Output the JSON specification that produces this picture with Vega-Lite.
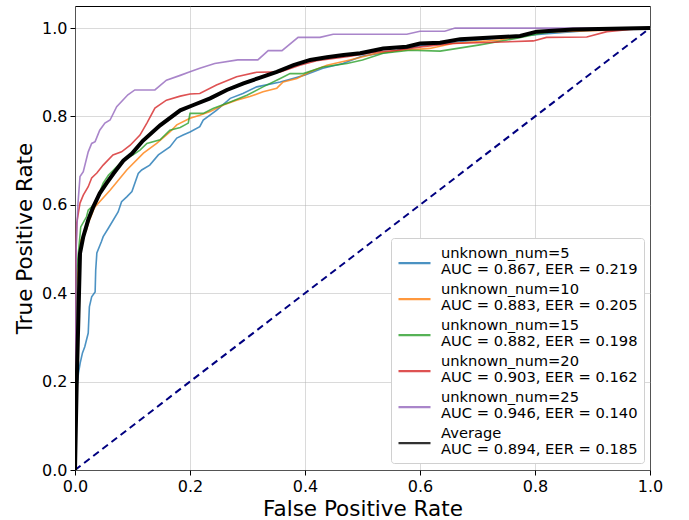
{
  "$schema": "https://vega.github.io/schema/vega-lite/v6.json",
  "autosize": {"type": "none"},
  "padding": {"left": 75, "top": 6, "right": 39, "bottom": 50},
  "width": 575,
  "height": 464,
  "background": "white",
  "config": {
    "font": "DejaVu Sans",
    "view": {"stroke": "black", "strokeWidth": 1},
    "axis": {
      "gridColor": "#b0b0b0",
      "gridOpacity": 0.6,
      "gridWidth": 0.8,
      "domain": false,
      "tickColor": "black",
      "tickSize": 5,
      "labelFont": "DejaVu Sans",
      "labelFontSize": 16,
      "labelColor": "black",
      "titleFont": "DejaVu Sans",
      "titleFontSize": 21.5,
      "titleFontWeight": "normal",
      "titleColor": "black"
    }
  },
  "datasets": {
    "diag": [{"x": 0, "y": 0}, {"x": 1, "y": 1}],
    "avg": [
      {"s": "avg", "x": 0, "y": 0},
      {"s": "avg", "x": 0.003, "y": 0.2},
      {"s": "avg", "x": 0.006, "y": 0.35},
      {"s": "avg", "x": 0.0087, "y": 0.49},
      {"s": "avg", "x": 0.0144, "y": 0.528},
      {"s": "avg", "x": 0.023, "y": 0.566},
      {"s": "avg", "x": 0.032, "y": 0.596},
      {"s": "avg", "x": 0.043, "y": 0.626},
      {"s": "avg", "x": 0.055, "y": 0.649},
      {"s": "avg", "x": 0.067, "y": 0.671},
      {"s": "avg", "x": 0.084, "y": 0.7},
      {"s": "avg", "x": 0.099, "y": 0.716},
      {"s": "avg", "x": 0.118, "y": 0.745},
      {"s": "avg", "x": 0.148, "y": 0.78},
      {"s": "avg", "x": 0.183, "y": 0.814},
      {"s": "avg", "x": 0.206, "y": 0.826},
      {"s": "avg", "x": 0.235, "y": 0.841},
      {"s": "avg", "x": 0.264, "y": 0.86},
      {"s": "avg", "x": 0.293, "y": 0.875},
      {"s": "avg", "x": 0.322, "y": 0.888},
      {"s": "avg", "x": 0.351, "y": 0.901},
      {"s": "avg", "x": 0.38, "y": 0.916},
      {"s": "avg", "x": 0.409, "y": 0.928},
      {"s": "avg", "x": 0.438, "y": 0.934},
      {"s": "avg", "x": 0.467, "y": 0.939},
      {"s": "avg", "x": 0.496, "y": 0.943},
      {"s": "avg", "x": 0.536, "y": 0.954},
      {"s": "avg", "x": 0.577, "y": 0.958},
      {"s": "avg", "x": 0.6, "y": 0.965},
      {"s": "avg", "x": 0.635, "y": 0.967},
      {"s": "avg", "x": 0.67, "y": 0.975},
      {"s": "avg", "x": 0.774, "y": 0.982},
      {"s": "avg", "x": 0.803, "y": 0.992},
      {"s": "avg", "x": 0.866, "y": 0.997},
      {"s": "avg", "x": 1, "y": 1}
    ],
    "runs": [
      {"s": "n5", "x": 0, "y": 0},
      {"s": "n5", "x": 0.002, "y": 0.17},
      {"s": "n5", "x": 0.006, "y": 0.219},
      {"s": "n5", "x": 0.009, "y": 0.242},
      {"s": "n5", "x": 0.013, "y": 0.265},
      {"s": "n5", "x": 0.017, "y": 0.279},
      {"s": "n5", "x": 0.023, "y": 0.31},
      {"s": "n5", "x": 0.025, "y": 0.369},
      {"s": "n5", "x": 0.029, "y": 0.392},
      {"s": "n5", "x": 0.035, "y": 0.403},
      {"s": "n5", "x": 0.036, "y": 0.452},
      {"s": "n5", "x": 0.038, "y": 0.491},
      {"s": "n5", "x": 0.046, "y": 0.517},
      {"s": "n5", "x": 0.049, "y": 0.528},
      {"s": "n5", "x": 0.058, "y": 0.547},
      {"s": "n5", "x": 0.075, "y": 0.584},
      {"s": "n5", "x": 0.081, "y": 0.607},
      {"s": "n5", "x": 0.09, "y": 0.618},
      {"s": "n5", "x": 0.099, "y": 0.63},
      {"s": "n5", "x": 0.11, "y": 0.671},
      {"s": "n5", "x": 0.116, "y": 0.679},
      {"s": "n5", "x": 0.13, "y": 0.69},
      {"s": "n5", "x": 0.145, "y": 0.713},
      {"s": "n5", "x": 0.165, "y": 0.731},
      {"s": "n5", "x": 0.177, "y": 0.751},
      {"s": "n5", "x": 0.188, "y": 0.758},
      {"s": "n5", "x": 0.2, "y": 0.765},
      {"s": "n5", "x": 0.217, "y": 0.777},
      {"s": "n5", "x": 0.223, "y": 0.792},
      {"s": "n5", "x": 0.246, "y": 0.814},
      {"s": "n5", "x": 0.27, "y": 0.841},
      {"s": "n5", "x": 0.292, "y": 0.852},
      {"s": "n5", "x": 0.316, "y": 0.867},
      {"s": "n5", "x": 0.357, "y": 0.878},
      {"s": "n5", "x": 0.379, "y": 0.886},
      {"s": "n5", "x": 0.4, "y": 0.894},
      {"s": "n5", "x": 0.431, "y": 0.909},
      {"s": "n5", "x": 0.466, "y": 0.92},
      {"s": "n5", "x": 0.5, "y": 0.937},
      {"s": "n5", "x": 0.548, "y": 0.946},
      {"s": "n5", "x": 0.6, "y": 0.96},
      {"s": "n5", "x": 0.7, "y": 0.973},
      {"s": "n5", "x": 0.8, "y": 0.985},
      {"s": "n5", "x": 0.9, "y": 0.995},
      {"s": "n5", "x": 1, "y": 1},

      {"s": "n10", "x": 0, "y": 0},
      {"s": "n10", "x": 0.003, "y": 0.42},
      {"s": "n10", "x": 0.01, "y": 0.52},
      {"s": "n10", "x": 0.02, "y": 0.543},
      {"s": "n10", "x": 0.023, "y": 0.558},
      {"s": "n10", "x": 0.032, "y": 0.588},
      {"s": "n10", "x": 0.035, "y": 0.596},
      {"s": "n10", "x": 0.061, "y": 0.633},
      {"s": "n10", "x": 0.09, "y": 0.679},
      {"s": "n10", "x": 0.119, "y": 0.717},
      {"s": "n10", "x": 0.142, "y": 0.739},
      {"s": "n10", "x": 0.165, "y": 0.765},
      {"s": "n10", "x": 0.177, "y": 0.781},
      {"s": "n10", "x": 0.2, "y": 0.796},
      {"s": "n10", "x": 0.217, "y": 0.803},
      {"s": "n10", "x": 0.235, "y": 0.811},
      {"s": "n10", "x": 0.258, "y": 0.826},
      {"s": "n10", "x": 0.281, "y": 0.837},
      {"s": "n10", "x": 0.304, "y": 0.845},
      {"s": "n10", "x": 0.327, "y": 0.856},
      {"s": "n10", "x": 0.351, "y": 0.864},
      {"s": "n10", "x": 0.362, "y": 0.878},
      {"s": "n10", "x": 0.386, "y": 0.886},
      {"s": "n10", "x": 0.409, "y": 0.901},
      {"s": "n10", "x": 0.438, "y": 0.916},
      {"s": "n10", "x": 0.478, "y": 0.928},
      {"s": "n10", "x": 0.525, "y": 0.943},
      {"s": "n10", "x": 0.571, "y": 0.95},
      {"s": "n10", "x": 0.617, "y": 0.954},
      {"s": "n10", "x": 0.657, "y": 0.965},
      {"s": "n10", "x": 0.739, "y": 0.973},
      {"s": "n10", "x": 0.803, "y": 0.99},
      {"s": "n10", "x": 0.925, "y": 0.995},
      {"s": "n10", "x": 1, "y": 1},

      {"s": "n15", "x": 0, "y": 0},
      {"s": "n15", "x": 0.003, "y": 0.45},
      {"s": "n15", "x": 0.01, "y": 0.55},
      {"s": "n15", "x": 0.02, "y": 0.573},
      {"s": "n15", "x": 0.023, "y": 0.588},
      {"s": "n15", "x": 0.035, "y": 0.603},
      {"s": "n15", "x": 0.049, "y": 0.649},
      {"s": "n15", "x": 0.058, "y": 0.667},
      {"s": "n15", "x": 0.0725, "y": 0.686},
      {"s": "n15", "x": 0.084, "y": 0.701},
      {"s": "n15", "x": 0.101, "y": 0.713},
      {"s": "n15", "x": 0.113, "y": 0.724},
      {"s": "n15", "x": 0.125, "y": 0.739},
      {"s": "n15", "x": 0.148, "y": 0.747},
      {"s": "n15", "x": 0.165, "y": 0.769},
      {"s": "n15", "x": 0.183, "y": 0.775},
      {"s": "n15", "x": 0.197, "y": 0.785},
      {"s": "n15", "x": 0.2, "y": 0.807},
      {"s": "n15", "x": 0.223, "y": 0.807},
      {"s": "n15", "x": 0.24, "y": 0.818},
      {"s": "n15", "x": 0.27, "y": 0.833},
      {"s": "n15", "x": 0.299, "y": 0.848},
      {"s": "n15", "x": 0.327, "y": 0.867},
      {"s": "n15", "x": 0.357, "y": 0.886},
      {"s": "n15", "x": 0.374, "y": 0.897},
      {"s": "n15", "x": 0.397, "y": 0.897},
      {"s": "n15", "x": 0.431, "y": 0.912},
      {"s": "n15", "x": 0.473, "y": 0.92},
      {"s": "n15", "x": 0.5, "y": 0.928},
      {"s": "n15", "x": 0.536, "y": 0.943},
      {"s": "n15", "x": 0.583, "y": 0.95},
      {"s": "n15", "x": 0.635, "y": 0.948},
      {"s": "n15", "x": 0.704, "y": 0.962},
      {"s": "n15", "x": 0.769, "y": 0.977},
      {"s": "n15", "x": 0.809, "y": 0.988},
      {"s": "n15", "x": 0.866, "y": 0.997},
      {"s": "n15", "x": 1, "y": 1},

      {"s": "n20", "x": 0, "y": 0},
      {"s": "n20", "x": 0.001, "y": 0.45},
      {"s": "n20", "x": 0.003, "y": 0.559},
      {"s": "n20", "x": 0.0087, "y": 0.604},
      {"s": "n20", "x": 0.0144, "y": 0.622},
      {"s": "n20", "x": 0.023, "y": 0.641},
      {"s": "n20", "x": 0.029, "y": 0.661},
      {"s": "n20", "x": 0.038, "y": 0.672},
      {"s": "n20", "x": 0.049, "y": 0.69},
      {"s": "n20", "x": 0.066, "y": 0.713},
      {"s": "n20", "x": 0.081, "y": 0.72},
      {"s": "n20", "x": 0.096, "y": 0.735},
      {"s": "n20", "x": 0.113, "y": 0.758},
      {"s": "n20", "x": 0.125, "y": 0.785},
      {"s": "n20", "x": 0.139, "y": 0.819},
      {"s": "n20", "x": 0.159, "y": 0.837},
      {"s": "n20", "x": 0.183, "y": 0.846},
      {"s": "n20", "x": 0.2, "y": 0.851},
      {"s": "n20", "x": 0.217, "y": 0.852},
      {"s": "n20", "x": 0.246, "y": 0.871},
      {"s": "n20", "x": 0.281, "y": 0.89},
      {"s": "n20", "x": 0.316, "y": 0.9},
      {"s": "n20", "x": 0.357, "y": 0.901},
      {"s": "n20", "x": 0.391, "y": 0.916},
      {"s": "n20", "x": 0.42, "y": 0.926},
      {"s": "n20", "x": 0.473, "y": 0.935},
      {"s": "n20", "x": 0.525, "y": 0.946},
      {"s": "n20", "x": 0.56, "y": 0.95},
      {"s": "n20", "x": 0.605, "y": 0.958},
      {"s": "n20", "x": 0.657, "y": 0.965},
      {"s": "n20", "x": 0.797, "y": 0.971},
      {"s": "n20", "x": 0.82, "y": 0.979},
      {"s": "n20", "x": 0.89, "y": 0.98},
      {"s": "n20", "x": 0.925, "y": 0.992},
      {"s": "n20", "x": 0.965, "y": 0.997},
      {"s": "n20", "x": 1, "y": 1},

      {"s": "n25", "x": 0, "y": 0},
      {"s": "n25", "x": 0.002, "y": 0.5},
      {"s": "n25", "x": 0.005, "y": 0.6},
      {"s": "n25", "x": 0.0087, "y": 0.664},
      {"s": "n25", "x": 0.0144, "y": 0.675},
      {"s": "n25", "x": 0.023, "y": 0.72},
      {"s": "n25", "x": 0.029, "y": 0.739},
      {"s": "n25", "x": 0.035, "y": 0.743},
      {"s": "n25", "x": 0.043, "y": 0.769},
      {"s": "n25", "x": 0.052, "y": 0.785},
      {"s": "n25", "x": 0.061, "y": 0.792},
      {"s": "n25", "x": 0.0725, "y": 0.822},
      {"s": "n25", "x": 0.092, "y": 0.849},
      {"s": "n25", "x": 0.104, "y": 0.86},
      {"s": "n25", "x": 0.139, "y": 0.86},
      {"s": "n25", "x": 0.159, "y": 0.882},
      {"s": "n25", "x": 0.183, "y": 0.893},
      {"s": "n25", "x": 0.2, "y": 0.901},
      {"s": "n25", "x": 0.217, "y": 0.909},
      {"s": "n25", "x": 0.243, "y": 0.92},
      {"s": "n25", "x": 0.283, "y": 0.928},
      {"s": "n25", "x": 0.318, "y": 0.928},
      {"s": "n25", "x": 0.336, "y": 0.949},
      {"s": "n25", "x": 0.36, "y": 0.949},
      {"s": "n25", "x": 0.388, "y": 0.979},
      {"s": "n25", "x": 0.426, "y": 0.979},
      {"s": "n25", "x": 0.449, "y": 0.986},
      {"s": "n25", "x": 0.577, "y": 0.986},
      {"s": "n25", "x": 0.6, "y": 0.993},
      {"s": "n25", "x": 0.643, "y": 0.993},
      {"s": "n25", "x": 0.661, "y": 1},
      {"s": "n25", "x": 1, "y": 1}
    ]
  },
  "layer": [
    {
      "data": {"name": "diag"},
      "mark": {"type": "line", "color": "#000080", "strokeWidth": 2, "strokeDash": [7, 4.5], "clip": true},
      "encoding": {
        "x": {"field": "x", "type": "quantitative", "scale": {"domain": [0, 1], "nice": false, "zero": false},
          "axis": {"title": "False Positive Rate", "values": [0, 0.2, 0.4, 0.6, 0.8, 1], "format": ".1f", "labelPadding": 3, "titlePadding": 4, "labelFlush": false}},
        "y": {"field": "y", "type": "quantitative", "scale": {"domain": [0, 1.05], "nice": false, "zero": false},
          "axis": {"title": "True Positive Rate", "values": [0, 0.2, 0.4, 0.6, 0.8, 1], "format": ".1f", "labelPadding": 3, "titlePadding": 5, "labelFlush": false}}
      }
    },
    {
      "data": {"name": "runs"},
      "mark": {"type": "line", "strokeWidth": 1.6, "opacity": 0.8, "clip": true},
      "encoding": {
        "x": {"field": "x", "type": "quantitative"},
        "y": {"field": "y", "type": "quantitative"},
        "order": [{"field": "x"}, {"field": "y"}],
        "color": {
          "field": "s", "type": "nominal",
          "scale": {
            "domain": ["n5", "n10", "n15", "n20", "n25", "avg"],
            "range": ["#1f77b4", "#ff7f0e", "#2ca02c", "#d62728", "#9467bd", "#000000"]
          },
          "legend": {
            "title": null,
            "orient": "none",
            "legendX": 316,
            "legendY": 232,
            "symbolType": "M-1,1.2L3,1.2",
            "symbolSize": 256,
            "symbolStrokeWidth": 2.2,
            "symbolFillColor": "transparent",
            "labelExpr": "split(datum.value == 'n5' ? 'unknown_num=5|AUC = 0.867, EER = 0.219' : datum.value == 'n10' ? 'unknown_num=10|AUC = 0.883, EER = 0.205' : datum.value == 'n15' ? 'unknown_num=15|AUC = 0.882, EER = 0.198' : datum.value == 'n20' ? 'unknown_num=20|AUC = 0.903, EER = 0.162' : datum.value == 'n25' ? 'unknown_num=25|AUC = 0.946, EER = 0.140' : 'Average|AUC = 0.894, EER = 0.185', '|')",
            "labelFont": "DejaVu Sans",
            "labelFontSize": 14.7,
            "labelBaseline": "middle",
            "labelColor": "black",
            "labelLimit": 400,
            "labelOffset": 25,
            "rowPadding": 3,
            "padding": 6,
            "strokeColor": "#d0d0d0",
            "fillColor": "white",
            "cornerRadius": 3
          }
        }
      }
    },
    {
      "data": {"name": "avg"},
      "mark": {"type": "line", "strokeWidth": 4, "clip": true},
      "encoding": {
        "x": {"field": "x", "type": "quantitative"},
        "y": {"field": "y", "type": "quantitative"},
        "order": [{"field": "x"}, {"field": "y"}],
        "color": {"field": "s", "type": "nominal"}
      }
    }
  ]
}
